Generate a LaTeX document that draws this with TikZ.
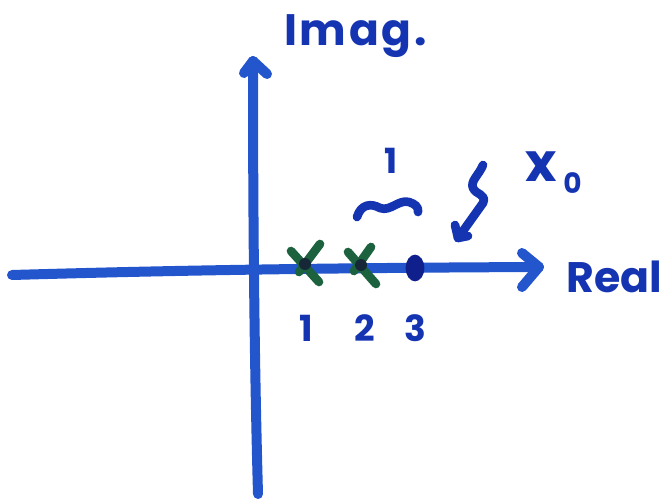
\documentclass[tikz,border=0pt]{standalone}
\usepackage{fontspec}
\setmainfont{Poppins}
\usetikzlibrary{shapes.geometric}
\definecolor{axisblue}{RGB}{35,85,205}
\definecolor{inkblue}{RGB}{20,52,178}
\definecolor{crossgreen}{RGB}{28,98,62}
\definecolor{dotnavy}{RGB}{15,32,140}
\definecolor{overlap}{RGB}{22,40,55}
\begin{document}
\begin{tikzpicture}[x=0.75pt,y=-0.75pt,line cap=round,line join=round,
  axis/.style={draw=axisblue,line width=7.5pt},
  ink/.style={draw=inkblue,line width=6.5pt},
  crossline/.style={draw=crossgreen,line width=6.5pt},
  lbl/.style={text=inkblue,inner sep=0pt,font=\bfseries\fontsize{#1}{#1}\selectfont},
  lbl/.default=30]
\useasboundingbox (0,0) rectangle (661,500);
% axes
\coordinate (xl) at (12,275);
\coordinate (xr) at (539,267);
\coordinate (yb) at (258,494);
\coordinate (yt) at (253,61);
\draw[axis] (xl) .. controls (150,271) and (300,268) .. (xr);
\draw[axis] (xr) ++(-17,-14) -- (xr) -- ++(-17,20);
\draw[axis] (yb) .. controls (254,350) and (253,200) .. (yt);
\draw[axis] (yt) ++(-9,12) -- (yt) -- ++(14,13);
% axis labels
\node[lbl=33,anchor=base west] (imag) at (284,45) {\addfontfeatures{LetterSpace=6}Imag.};
\node[lbl=32,anchor=base west] (real) at (566,292) {Real};
% poles (crosses)
\coordinate (c1) at (305,264);
\coordinate (c2) at (361,265);
\draw[crossline] (c1) ++(-14,-13) -- ++(28,31);
\draw[crossline] (c1) ++(15,-20) -- ++(-21,28);
\fill[overlap] (c1) circle (6);
\draw[crossline] (c2) ++(-13,-13) -- ++(28,32);
\draw[crossline] (c2) ++(10,-18) -- ++(-17,24);
\fill[overlap] (c2) circle (6);
% dot
\node[ellipse,fill=dotnavy,minimum width=14pt,minimum height=20pt,inner sep=0pt] (d3) at (415,268) {};
% tick numbers
\node[lbl=27,anchor=base] (n1) at (306,341) {1};
\node[lbl=27,anchor=base] (n2) at (365,341) {2};
\node[lbl=27,anchor=base] (n3) at (415,341) {3};
% tilde with 1
\node[lbl=26,anchor=base] (t1) at (391,173) {1};
\draw[ink] (357,217) .. controls (361,204) and (371,203) .. (380,208)
  .. controls (390,212) and (399,199) .. (409,202) .. controls (415,204) and (419,207) .. (418,212);
% squiggle arrow
\coordinate (sqs) at (483,165);
\coordinate (sqt) at (458,238);
\draw[ink] (sqs) .. controls (479,175) and (470,181) .. (473,188)
  .. controls (476,195) and (487,194) .. (483,203) -- (sqt);
\draw[ink] (sqt) ++(-3,-13) -- (sqt) -- ++(10,-2);
% x_0 label
\node[lbl=40,anchor=base west] (x0) at (525,181) {x\hspace{5pt}\raisebox{-9pt}{\fontsize{21}{21}\selectfont 0}};
\end{tikzpicture}
\end{document}
